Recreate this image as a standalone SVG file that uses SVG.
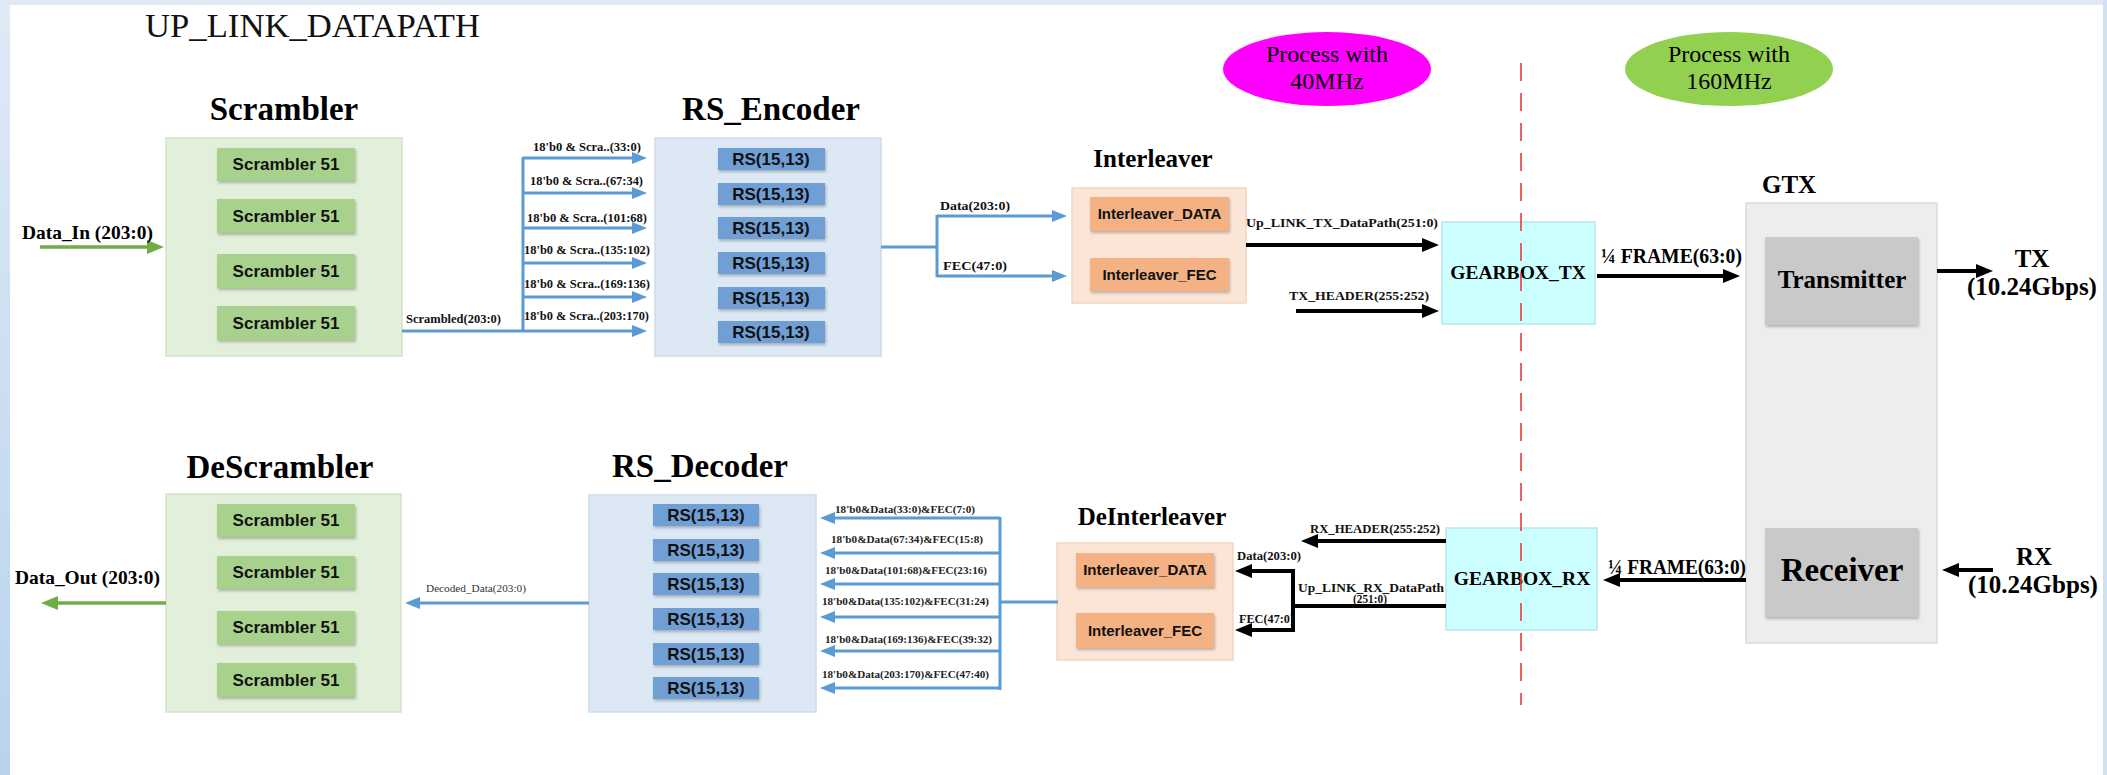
<svg xmlns="http://www.w3.org/2000/svg" width="2107" height="775" viewBox="0 0 2107 775">
<defs>
<linearGradient id="lband" x1="0" y1="0" x2="0" y2="1"><stop offset="0" stop-color="#dfeaf6"/><stop offset="1" stop-color="#b9d3ee"/></linearGradient>
<filter id="sh" x="-10%" y="-10%" width="130%" height="140%"><feDropShadow dx="1" dy="2" stdDeviation="1.5" flood-color="#000" flood-opacity="0.25"/></filter>
<marker id="ab" markerUnits="userSpaceOnUse" markerWidth="16" markerHeight="14" refX="9" refY="7" orient="auto"><path d="M0,1 L15,7 L0,13 z" fill="#5b9bd5"/></marker>
<marker id="ak" markerUnits="userSpaceOnUse" markerWidth="18" markerHeight="16" refX="10" refY="8" orient="auto"><path d="M0,1 L17,8 L0,15 z" fill="#000"/></marker>
<marker id="ag" markerUnits="userSpaceOnUse" markerWidth="18" markerHeight="16" refX="10" refY="8" orient="auto"><path d="M0,1 L17,8 L0,15 z" fill="#70ad47"/></marker>
</defs>
<style>
.ttl{font-family:"Liberation Serif",serif;font-weight:bold;font-size:33px;fill:#000;text-anchor:middle}
.sub{font-family:"Liberation Serif",serif;font-weight:bold;font-size:25px;fill:#000}
.lbl{font-family:"Liberation Serif",serif;font-weight:bold;font-size:12px;fill:#111}
.lbs{font-family:"Liberation Serif",serif;font-weight:bold;font-size:11px;fill:#222}
.io{font-family:"Liberation Serif",serif;font-weight:bold;font-size:19px;fill:#000}
.frm{font-family:"Liberation Serif",serif;font-weight:bold;font-size:20px;fill:#000}
.in{font-family:"Liberation Sans",sans-serif;font-weight:bold;font-size:17px;fill:#111;text-anchor:middle}
.in15{font-family:"Liberation Sans",sans-serif;font-weight:bold;font-size:15px;fill:#111;text-anchor:middle}
.proc{font-family:"Liberation Serif",serif;font-size:24px;fill:#000;text-anchor:middle}
.gscr{fill:#e2efda;stroke:#d3e2cb;stroke-width:1.5}
.iscr{fill:#a9d18e;filter:url(#sh)}
.grs{fill:#dce8f4;stroke:#cddbea;stroke-width:1.5}
.irs{fill:#6f9fd6;filter:url(#sh)}
.gil{fill:#fbe5d6;stroke:#efd6c4;stroke-width:1.5}
.iil{fill:#f4b183;filter:url(#sh)}
.gb{fill:#ccffff;stroke:#b9e6ea;stroke-width:1.5}
.gtx{fill:#ededed;stroke:#dadada;stroke-width:1.5}
.igtx{fill:#c9c9c9;filter:url(#sh)}
.cb{fill:none;stroke:#5b9bd5;stroke-width:3}
.ck{fill:none;stroke:#000;stroke-width:4}
.cg{fill:none;stroke:#70ad47;stroke-width:3.5}
</style>
<rect width="2107" height="775" fill="#fff"/>
<rect x="0" y="0" width="10" height="775" fill="url(#lband)"/>
<rect x="0" y="0" width="2107" height="5" fill="#dfeaf6"/>
<rect x="2103" y="0" width="4" height="775" fill="#cfe0f2"/>
<text x="145" y="37" font-family="Liberation Serif, serif" font-size="33" fill="#111" textLength="335" lengthAdjust="spacingAndGlyphs">UP_LINK_DATAPATH</text>

<g id="scrambler">
<text class="ttl" x="284" y="120">Scrambler</text>
<rect class="gscr" x="166" y="138" width="236" height="218"/>
<rect class="iscr" x="217" y="148" width="138" height="33"/>
<rect class="iscr" x="217" y="199" width="138" height="34"/>
<rect class="iscr" x="217" y="254" width="138" height="34"/>
<rect class="iscr" x="217" y="306" width="138" height="34"/>
<text class="in" x="286" y="170">Scrambler 51</text>
<text class="in" x="286" y="222">Scrambler 51</text>
<text class="in" x="286" y="277">Scrambler 51</text>
<text class="in" x="286" y="329">Scrambler 51</text>
</g>

<g id="rs_encoder">
<text class="ttl" x="771" y="120">RS_Encoder</text>
<rect class="grs" x="655" y="138" width="226" height="218"/>
<rect class="irs" x="718" y="148" width="107" height="22"/>
<rect class="irs" x="718" y="183" width="107" height="22"/>
<rect class="irs" x="718" y="217" width="107" height="22"/>
<rect class="irs" x="718" y="252" width="107" height="22"/>
<rect class="irs" x="718" y="287" width="107" height="22"/>
<rect class="irs" x="718" y="321" width="107" height="22"/>
<text class="in" x="771" y="165">RS(15,13)</text>
<text class="in" x="771" y="200">RS(15,13)</text>
<text class="in" x="771" y="234">RS(15,13)</text>
<text class="in" x="771" y="269">RS(15,13)</text>
<text class="in" x="771" y="304">RS(15,13)</text>
<text class="in" x="771" y="338">RS(15,13)</text>
</g>

<g id="interleaver">
<text class="sub" x="1153" y="167" text-anchor="middle">Interleaver</text>
<rect class="gil" x="1072" y="188" width="174" height="115"/>
<rect class="iil" x="1090" y="197" width="139" height="34"/>
<rect class="iil" x="1090" y="258" width="139" height="33"/>
<text class="in15" x="1159.5" y="219">Interleaver_DATA</text>
<text class="in15" x="1159.5" y="280">Interleaver_FEC</text>
</g>

<g id="gearbox_tx">
<rect class="gb" x="1442" y="222" width="153" height="102"/>
<text x="1518" y="279" text-anchor="middle" font-family="Liberation Serif, serif" font-weight="bold" font-size="19.5">GEARBOX_TX</text>
</g>

<g id="clock40">
<ellipse cx="1327" cy="69" rx="104" ry="37" fill="#ff00ff"/>
<text class="proc" x="1327" y="62">Process with</text>
<text class="proc" x="1327" y="89">40MHz</text>
</g>
<g id="clock160">
<ellipse cx="1729" cy="69" rx="104" ry="37" fill="#92d050"/>
<text class="proc" x="1729" y="62">Process with</text>
<text class="proc" x="1729" y="89">160MHz</text>
</g>

<g id="gtx">
<text class="sub" x="1762" y="193">GTX</text>
<rect class="gtx" x="1746" y="203" width="191" height="440"/>
<rect class="igtx" x="1765" y="237" width="153" height="88"/>
<rect class="igtx" x="1765" y="528" width="153" height="89"/>
<text class="sub" x="1842" y="288" text-anchor="middle">Transmitter</text>
<text x="1842" y="581" text-anchor="middle" font-family="Liberation Serif, serif" font-weight="bold" font-size="33">Receiver</text>
</g>

<g id="tx_port">
<text class="sub" x="2032" y="267" text-anchor="middle">TX</text>
<text class="sub" x="2032" y="295" text-anchor="middle">(10.24Gbps)</text>
</g>
<g id="rx_port">
<text class="sub" x="2034" y="565" text-anchor="middle">RX</text>
<text class="sub" x="2033" y="593" text-anchor="middle">(10.24Gbps)</text>
</g>

<g id="gearbox_rx">
<rect class="gb" x="1446" y="528" width="151" height="102"/>
<text x="1522" y="585" text-anchor="middle" font-family="Liberation Serif, serif" font-weight="bold" font-size="19.5">GEARBOX_RX</text>
</g>

<g id="deinterleaver">
<text class="sub" x="1152" y="525" text-anchor="middle">DeInterleaver</text>
<rect class="gil" x="1057" y="543" width="176" height="117"/>
<rect class="iil" x="1076" y="553" width="138" height="34"/>
<rect class="iil" x="1076" y="613" width="138" height="35"/>
<text class="in15" x="1145" y="575">Interleaver_DATA</text>
<text class="in15" x="1145" y="636">Interleaver_FEC</text>
</g>

<g id="rs_decoder">
<text class="ttl" x="700" y="477">RS_Decoder</text>
<rect class="grs" x="589" y="495" width="227" height="217"/>
<rect class="irs" x="653" y="504" width="106" height="22"/>
<rect class="irs" x="653" y="539" width="106" height="22"/>
<rect class="irs" x="653" y="573" width="106" height="22"/>
<rect class="irs" x="653" y="608" width="106" height="22"/>
<rect class="irs" x="653" y="643" width="106" height="22"/>
<rect class="irs" x="653" y="677" width="106" height="22"/>
<text class="in" x="706" y="521">RS(15,13)</text>
<text class="in" x="706" y="556">RS(15,13)</text>
<text class="in" x="706" y="590">RS(15,13)</text>
<text class="in" x="706" y="625">RS(15,13)</text>
<text class="in" x="706" y="660">RS(15,13)</text>
<text class="in" x="706" y="694">RS(15,13)</text>
</g>

<g id="descrambler">
<text class="ttl" x="280" y="478">DeScrambler</text>
<rect class="gscr" x="166" y="494" width="235" height="218"/>
<rect class="iscr" x="217" y="504" width="138" height="33"/>
<rect class="iscr" x="217" y="556" width="138" height="33"/>
<rect class="iscr" x="217" y="611" width="138" height="33"/>
<rect class="iscr" x="217" y="663" width="138" height="34"/>
<text class="in" x="286" y="526">Scrambler 51</text>
<text class="in" x="286" y="578">Scrambler 51</text>
<text class="in" x="286" y="633">Scrambler 51</text>
<text class="in" x="286" y="686">Scrambler 51</text>
</g>

<g id="connectors">
<line class="cg" x1="40" y1="247" x2="157" y2="247" marker-end="url(#ag)"/>
<path class="cb" d="M402,331 H523 M523,157 V332"/>
<line class="cb" x1="523" y1="158" x2="641" y2="158" marker-end="url(#ab)"/>
<line class="cb" x1="523" y1="193" x2="641" y2="193" marker-end="url(#ab)"/>
<line class="cb" x1="523" y1="228" x2="641" y2="228" stroke-width="2" marker-end="url(#ab)"/>
<line class="cb" x1="523" y1="263" x2="641" y2="263" marker-end="url(#ab)"/>
<line class="cb" x1="523" y1="297" x2="641" y2="297" marker-end="url(#ab)"/>
<line class="cb" x1="523" y1="331" x2="641" y2="331" marker-end="url(#ab)"/>
<path class="cb" d="M881,247 H937 M937,215 V277"/>
<line class="cb" x1="937" y1="216" x2="1061" y2="216" marker-end="url(#ab)"/>
<line class="cb" x1="937" y1="276" x2="1061" y2="276" marker-end="url(#ab)"/>
<line class="ck" x1="1246" y1="245" x2="1432" y2="245" marker-end="url(#ak)"/>
<line class="ck" x1="1296" y1="311" x2="1432" y2="311" marker-end="url(#ak)"/>
<line class="ck" x1="1597" y1="276" x2="1733" y2="276" marker-end="url(#ak)"/>
<line class="ck" x1="1937" y1="271" x2="1986" y2="271" marker-end="url(#ak)"/>
<line class="ck" x1="1993" y1="570" x2="1949" y2="570" marker-end="url(#ak)"/>
<line class="ck" x1="1746" y1="580" x2="1610" y2="580" marker-end="url(#ak)"/>
<line class="ck" x1="1446" y1="541" x2="1308" y2="541" marker-end="url(#ak)"/>
<path class="ck" d="M1446,606 H1293 M1293,569 V632"/>
<line class="ck" x1="1293" y1="571" x2="1242" y2="571" marker-end="url(#ak)"/>
<line class="ck" x1="1293" y1="630" x2="1242" y2="630" marker-end="url(#ak)"/>
<path class="cb" d="M1058,602 H1000 M1000,517 V690"/>
<line class="cb" x1="1000" y1="518" x2="826" y2="518" marker-end="url(#ab)"/>
<line class="cb" x1="1000" y1="553" x2="826" y2="553" marker-end="url(#ab)"/>
<line class="cb" x1="1000" y1="584" x2="826" y2="584" marker-end="url(#ab)"/>
<line class="cb" x1="1000" y1="617" x2="826" y2="617" marker-end="url(#ab)"/>
<line class="cb" x1="1000" y1="651" x2="826" y2="651" marker-end="url(#ab)"/>
<line class="cb" x1="1000" y1="688" x2="826" y2="688" marker-end="url(#ab)"/>
<line class="cb" x1="589" y1="603" x2="411" y2="603" stroke-width="2.5" marker-end="url(#ab)"/>
<line class="cg" x1="166" y1="603" x2="48" y2="603" marker-end="url(#ag)"/>
<line x1="1521" y1="63" x2="1521" y2="705" stroke="#e83c3c" stroke-width="1.6" stroke-dasharray="18 12"/>
</g>

<g id="labels">
<text class="io" x="22" y="239" textLength="131" lengthAdjust="spacingAndGlyphs">Data_In (203:0)</text>
<text class="lbl" x="406" y="323" textLength="95" lengthAdjust="spacingAndGlyphs">Scrambled(203:0)</text>
<text class="lbl" x="533" y="151" textLength="108" lengthAdjust="spacingAndGlyphs">18'b0 &amp; Scra..(33:0)</text>
<text class="lbl" x="530" y="185" textLength="113" lengthAdjust="spacingAndGlyphs">18'b0 &amp; Scra..(67:34)</text>
<text class="lbl" x="527" y="222" textLength="120" lengthAdjust="spacingAndGlyphs">18'b0 &amp; Scra..(101:68)</text>
<text class="lbl" x="524" y="254" textLength="126" lengthAdjust="spacingAndGlyphs">18'b0 &amp; Scra..(135:102)</text>
<text class="lbl" x="524" y="288" textLength="126" lengthAdjust="spacingAndGlyphs">18'b0 &amp; Scra..(169:136)</text>
<text class="lbl" x="524" y="320" textLength="125" lengthAdjust="spacingAndGlyphs">18'b0 &amp; Scra..(203:170)</text>
<text class="lbl" x="940" y="210" textLength="70" lengthAdjust="spacingAndGlyphs">Data(203:0)</text>
<text class="lbl" x="943" y="270" textLength="64" lengthAdjust="spacingAndGlyphs">FEC(47:0)</text>
<text class="lbl" x="1246" y="227" textLength="192" lengthAdjust="spacingAndGlyphs" font-size="14">Up_LINK_TX_DataPath(251:0)</text>
<text class="lbl" x="1289" y="300" textLength="140" lengthAdjust="spacingAndGlyphs" font-size="14">TX_HEADER(255:252)</text>
<text class="frm" x="1601" y="263" textLength="141" lengthAdjust="spacingAndGlyphs">¼ FRAME(63:0)</text>
<text class="frm" x="1608" y="574" textLength="138" lengthAdjust="spacingAndGlyphs">¼ FRAME(63:0)</text>
<text class="lbl" x="1310" y="533" textLength="130" lengthAdjust="spacingAndGlyphs" font-size="13">RX_HEADER(255:252)</text>
<text class="lbl" x="1237" y="560" textLength="64" lengthAdjust="spacingAndGlyphs">Data(203:0)</text>
<text class="lbl" x="1298" y="592" textLength="146" lengthAdjust="spacingAndGlyphs">Up_LINK_RX_DataPath</text>
<text class="lbl" x="1353" y="603" textLength="34" lengthAdjust="spacingAndGlyphs">(251:0)</text>
<text class="lbl" x="1239" y="623" textLength="55" lengthAdjust="spacingAndGlyphs">FEC(47:0)</text>
<text class="lbs" x="835" y="513" textLength="140" lengthAdjust="spacingAndGlyphs">18'b0&amp;Data(33:0)&amp;FEC(7:0)</text>
<text class="lbs" x="831" y="543" textLength="152" lengthAdjust="spacingAndGlyphs">18'b0&amp;Data(67:34)&amp;FEC(15:8)</text>
<text class="lbs" x="825" y="574" textLength="162" lengthAdjust="spacingAndGlyphs">18'b0&amp;Data(101:68)&amp;FEC(23:16)</text>
<text class="lbs" x="822" y="605" textLength="167" lengthAdjust="spacingAndGlyphs">18'b0&amp;Data(135:102)&amp;FEC(31:24)</text>
<text class="lbs" x="825" y="643" textLength="167" lengthAdjust="spacingAndGlyphs">18'b0&amp;Data(169:136)&amp;FEC(39:32)</text>
<text class="lbs" x="822" y="678" textLength="167" lengthAdjust="spacingAndGlyphs">18'b0&amp;Data(203:170)&amp;FEC(47:40)</text>
<text x="426" y="592" font-family="Liberation Serif, serif" font-size="11" fill="#333" textLength="100" lengthAdjust="spacingAndGlyphs">Decoded_Data(203:0)</text>
<text class="io" x="15" y="584" textLength="145" lengthAdjust="spacingAndGlyphs">Data_Out (203:0)</text>
</g>
</svg>
